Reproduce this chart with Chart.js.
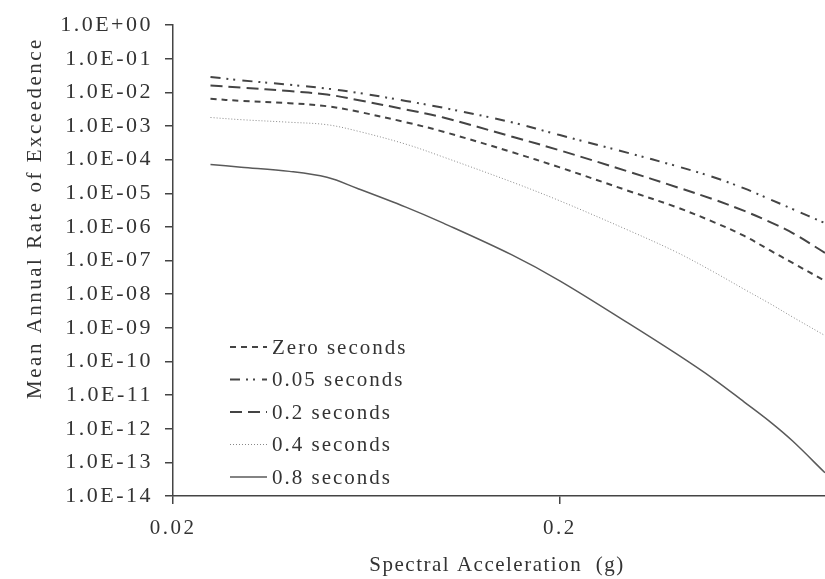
<!DOCTYPE html>
<html>
<head>
<meta charset="utf-8">
<title>Hazard curves</title>
<script src="https://cdn.jsdelivr.net/npm/chart.js@4.4.1/dist/chart.umd.min.js"></script>
<style>
  html, body { margin: 0; padding: 0; background: #fff; }
  #wrap { width: 825px; height: 579px; position: relative; }
</style>
</head>
<body>
<div id="wrap"><canvas id="hazardChart"></canvas></div>
<script>
// Spectral acceleration (g)
const accel = [0.025, 0.03, 0.04, 0.05, 0.06, 0.08, 0.1, 0.15, 0.2, 0.3, 0.4, 0.5, 0.6, 0.7, 0.8, 0.97];

// Mean annual rate of exceedence for each period
const zeroSec = [6.5e-3, 5.6e-3, 4.8e-3, 3.9e-3, 2.7e-3, 1.3e-3, 6.8e-4, 1.7e-4, 5.9e-5, 1.2e-5, 3.9e-6, 1.4e-6, 5.4e-7, 2.0e-7, 8.5e-8, 2.5e-8];
const sec005 = [2.9e-2, 2.3e-2, 1.7e-2, 1.3e-2, 9.8e-3, 5.6e-3, 3.5e-3, 1.3e-3, 5.4e-4, 1.6e-4, 6.5e-5, 3.0e-5, 1.4e-5, 6.6e-6, 3.4e-6, 1.3e-6];
const sec02 = [1.6e-2, 1.4e-2, 1.1e-2, 8.7e-3, 6.0e-3, 3.1e-3, 1.8e-3, 4.9e-4, 1.9e-4, 4.5e-5, 1.55e-5, 6.6e-6, 3.0e-6, 1.4e-6, 6.6e-7, 1.7e-7];
const sec04 = [1.8e-3, 1.55e-3, 1.3e-3, 1.1e-3, 7.1e-4, 2.9e-4, 1.2e-4, 2.2e-5, 6.0e-6, 8.1e-7, 1.8e-7, 4.6e-8, 1.4e-8, 5.2e-9, 2.1e-9, 5.9e-10];
const sec08 = [7.2e-5, 6.0e-5, 4.5e-5, 3.0e-5, 1.4e-5, 3.9e-6, 1.3e-6, 1.5e-7, 2.5e-8, 1.4e-9, 1.7e-10, 3.0e-11, 6.2e-12, 1.6e-12, 4.3e-13, 4.9e-14];

const seriesLabels = ["Zero seconds", "0.05 seconds", "0.2 seconds", "0.4 seconds", "0.8 seconds"];

// Axis ticks
const xTicks = [0.02, 0.2];
const yTickExponents = [0, -1, -2, -3, -4, -5, -6, -7, -8, -9, -10, -11, -12, -13, -14];

const textColor = "#333";
const axisColor = "#444";
const fontFamily = "'Liberation Serif', 'Times New Roman', serif";

function toPoints(values) {
  return accel.map((x, i) => ({ x: x, y: values[i] }));
}

function expLabel(v) {
  const e = Math.round(Math.log10(v));
  const sign = e >= 0 ? "+" : "-";
  const n = Math.abs(e);
  return "1.0E" + sign + (n < 10 ? "0" + n : n);
}

const styles = [
  { color: "#444", width: 2, dash: [6, 5] },
  { color: "#444", width: 2, dash: [10, 6, 2, 5, 2, 7] },
  { color: "#444", width: 2, dash: [12, 6] },
  { color: "#888", width: 1, dash: [1, 2] },
  { color: "#5a5a5a", width: 1.5, dash: [] }
];

const allValues = [zeroSec, sec005, sec02, sec04, sec08];

const datasets = allValues.map((vals, i) => ({
  label: seriesLabels[i],
  data: toPoints(vals),
  borderColor: styles[i].color,
  borderWidth: styles[i].width,
  borderDash: styles[i].dash,
  pointRadius: 0,
  fill: false,
  tension: 0.35
}));

// wide letter spacing like the original serif text (tick labels)
const spacingPlugin = {
  id: "spacing",
  beforeLayout(chart) { chart.ctx.letterSpacing = "2.5px"; },
  beforeDraw(chart) { chart.ctx.letterSpacing = "2.5px"; }
};

// legend inside the plot, bottom left
const innerLegend = {
  id: "innerLegend",
  afterDatasetsDraw(chart) {
    const ctx = chart.ctx;
    const x0 = chart.chartArea.left + 57;
    const y0 = 347;
    ctx.save();
    ctx.letterSpacing = "2px";
    ctx.font = "21px " + fontFamily;
    ctx.textBaseline = "middle";
    ctx.textAlign = "left";
    chart.data.datasets.forEach((ds, i) => {
      const y = y0 + i * 32.5;
      ctx.beginPath();
      ctx.strokeStyle = ds.borderColor;
      ctx.lineWidth = ds.borderWidth;
      ctx.setLineDash(ds.borderDash);
      ctx.moveTo(x0, y);
      ctx.lineTo(x0 + 37, y);
      ctx.stroke();
      ctx.setLineDash([]);
      ctx.fillStyle = textColor;
      ctx.fillText(ds.label, x0 + 42, y + 1);
    });
    ctx.restore();
  }
};

// axis titles
const axisTitles = {
  id: "axisTitles",
  afterDraw(chart) {
    const ctx = chart.ctx;
    const area = chart.chartArea;
    ctx.save();
    ctx.font = "21px " + fontFamily;
    ctx.fillStyle = textColor;
    ctx.textAlign = "center";
    ctx.textBaseline = "middle";
    ctx.letterSpacing = "1.5px";
    ctx.fillText("Spectral Acceleration  (g)", (area.left + area.right) / 2 - 2, 565);
    ctx.letterSpacing = "2.5px";
    ctx.translate(35, 218);
    ctx.rotate(-Math.PI / 2);
    ctx.fillText("Mean Annual Rate of Exceedence", 0, 0);
    ctx.restore();
  }
};

new Chart(document.getElementById("hazardChart"), {
  type: "line",
  data: { datasets: datasets },
  plugins: [spacingPlugin, innerLegend, axisTitles],
  options: {
    responsive: true,
    maintainAspectRatio: false,
    animation: false,
    layout: { padding: { top: 23, right: 0, left: 0, bottom: 0 } },
    plugins: {
      legend: { display: false },
      tooltip: { enabled: false }
    },
    scales: {
      x: {
        type: "logarithmic",
        min: 0.02,
        max: 0.97,
        afterBuildTicks: function (scale) {
          scale.ticks = xTicks.map(v => ({ value: v }));
        },
        afterFit: function (scale) { scale.height = 83; },
        ticks: {
          color: textColor,
          font: { family: fontFamily, size: 21 },
          padding: 12,
          maxRotation: 0,
          callback: function (value) { return String(value); }
        },
        grid: {
          drawOnChartArea: false,
          drawTicks: true,
          tickLength: 8,
          color: axisColor,
          lineWidth: 1.5
        },
        border: { display: true, color: axisColor, width: 1.5 }
      },
      y: {
        type: "logarithmic",
        min: 1e-14,
        max: 1,
        afterBuildTicks: function (scale) {
          scale.ticks = yTickExponents.map(e => ({ value: Number("1e" + e) }));
        },
        afterFit: function (scale) { scale.width = 173; },
        ticks: {
          color: textColor,
          font: { family: fontFamily, size: 22 },
          padding: 12,
          autoSkip: false,
          callback: function (value) { return expLabel(value); }
        },
        grid: {
          drawOnChartArea: false,
          drawTicks: true,
          tickLength: 8,
          color: axisColor,
          lineWidth: 1.5
        },
        border: { display: true, color: axisColor, width: 1.5 }
      }
    }
  }
});
</script>
</body>
</html>
